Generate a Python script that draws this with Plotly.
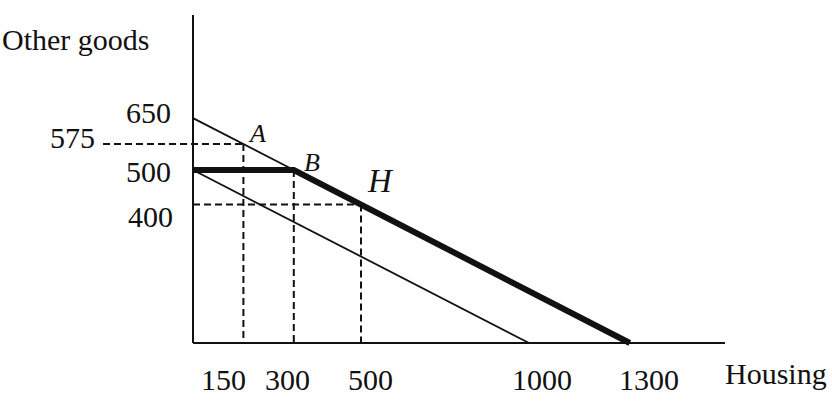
import plotly.graph_objects as go

# ---- data ----
budget_x = [0, 1300]          # original budget line (thin upper part up to B)
budget_y = [650, 0]
lower_x = [0, 1000]           # budget line without subsidy
lower_y = [500, 0]
kinked_x = [0, 300, 1300]     # housing-voucher budget (thick)
kinked_y = [500, 500, 0]
point_names = ["A", "B", "H"]
point_x = [150, 300, 500]
point_y = [575, 500, 400]
x_ticks = [150, 300, 500, 1000, 1300]
y_ticks = [650, 575, 500, 400]
x_title = "Housing"
y_title = "Other goods"

# ---- layout geometry (pixel mapping) ----
W, H = 832, 402
ox, oy = 193, 343            # pixel position of origin
sx, sy = 0.336, 0.346        # px per unit
x0 = -ox / sx
x1 = x0 + W / sx
y0 = -(H - oy) / sy
y1 = oy / sy
xaxis_end = (725 - ox) / sx
yaxis_end = (oy - 15) / sy
dash_left = (103 - ox) / sx

FONT = "Liberation Serif"
INK = "#111111"

fig = go.Figure()

def line(xs, ys, w, dash="solid"):
    fig.add_trace(go.Scatter(x=xs, y=ys, mode="lines",
                             line=dict(color=INK, width=w, dash=dash),
                             hoverinfo="skip", showlegend=False))

# axes
line([0, 0], [0, yaxis_end], 2)
line([0, xaxis_end], [0, 0], 2)

# dashed guides
ax_, bx_, hx_ = point_x
ay_, by_, hy_ = point_y
DASH = "7px,4px"
line([dash_left, ax_], [ay_, ay_], 2, DASH)
line([ax_, ax_], [ay_, 0], 2, DASH)
line([bx_, bx_], [by_, 0], 2, DASH)
line([0, hx_], [hy_, hy_], 2, DASH)
line([hx_, hx_], [hy_, 0], 2, DASH)

# budget lines
line([budget_x[0], bx_], [budget_y[0], by_], 1.8)
line(lower_x, lower_y, 1.8)
line(kinked_x, kinked_y, 6)

ann = []
# y tick labels (right edge, shift)
y_label_pos = {650: (-20, 6), 575: (-96, 7), 500: (-20, -1), 400: (-18, -12)}
for v in y_ticks:
    xs, ys = y_label_pos[v]
    ann.append(dict(x=0, y=v, text=str(v), xanchor="right", yanchor="middle",
                    xshift=xs, yshift=ys, showarrow=False,
                    font=dict(family=FONT, size=30, color=INK)))
# x tick labels
x_label_shift = [-20, -6, 9, 13, 19]
for v, s in zip(x_ticks, x_label_shift):
    ann.append(dict(x=v, y=0, text=str(v), xanchor="center", yanchor="middle",
                    xshift=s, yshift=-36, showarrow=False,
                    font=dict(family=FONT, size=30, color=INK)))
# axis titles
ann.append(dict(x=xaxis_end, y=0, text=x_title, xanchor="left", yanchor="middle",
                xshift=-2, yshift=-30, showarrow=False,
                font=dict(family=FONT, size=30, color=INK)))
ann.append(dict(x=0, y=yaxis_end, text=y_title, xanchor="right", yanchor="middle",
                xshift=-42, yshift=-24, showarrow=False,
                font=dict(family=FONT, size=30, color=INK)))
# point labels
pt_style = {"A": (14, 11, 26), "B": (18, 8, 26), "H": (19, 24, 33)}
for n, px, py in zip(point_names, point_x, point_y):
    xs, ys, fs = pt_style[n]
    ann.append(dict(x=px, y=py, text=f"<i>{n}</i>", xanchor="center", yanchor="middle",
                    xshift=xs, yshift=ys, showarrow=False,
                    font=dict(family=FONT, size=fs, color=INK)))

fig.update_layout(
    width=W, height=H, margin=dict(l=0, r=0, t=0, b=0),
    paper_bgcolor="white", plot_bgcolor="white",
    xaxis=dict(range=[x0, x1], visible=False, fixedrange=True),
    yaxis=dict(range=[y0, y1], visible=False, fixedrange=True),
    annotations=ann,
)
fig.write_html("out.html")
